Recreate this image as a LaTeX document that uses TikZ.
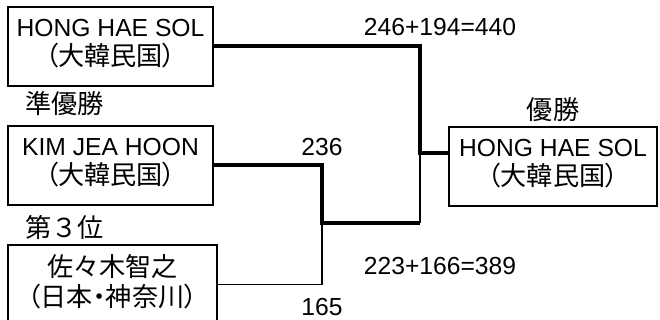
\documentclass[tikz,border=0pt]{standalone}
\usepackage{fontspec}
\setmainfont{Liberation Sans}
\newfontfamily\jp{Noto Sans CJK JP}[Scale=1.06]
\newfontfamily\jpp{Noto Sans CJK JP}[Scale=1.06,RawFeature=+palt]
\tikzset{player/.style={draw,line width=1.1pt,minimum width=154pt,minimum height=59pt,
    align=center,inner sep=0pt,font=\fontsize{18.5}{22}\selectfont},
  win/.style={line width=3pt},
  lose/.style={line width=0.9pt},
  score/.style={inner sep=0pt,font=\fontsize{18.5}{22}\selectfont}}

\begin{document}
\begin{tikzpicture}[x=0.75pt,y=-0.75pt]
      \useasboundingbox (0,0) rectangle (660,320);
      \clip (0,0) rectangle (660,320);

      \node[player] (hong) at (110.5,46.5) {HONG HAE SOL\\{\jpp （大韓民国）}\\[-16pt]};
      \node[player] (kim) at (110.5,165.5) {KIM JEA HOON\\{\jpp （大韓民国）}\\[-16pt]};
      \node[player,minimum width=157pt] (sasaki) at (112.5,284.5) {{\jp 佐々木智之}\\{\jpp （日本・神奈川）}\\[-16pt]};
      \node[player,minimum width=156pt] (champ) at (553,166.5) {HONG HAE SOL\\{\jpp （大韓民国）}\\[-16pt]};

      \node[score,anchor=west] (second) at (25,104) {\jp 準優勝};
      \node[score,anchor=west] (third) at (25,227) {\jp 第３位};
      \node[score] (first) at (553,110) {\jp 優勝};

      \coordinate (semi) at (322,223);
      \coordinate (final) at (420,153);

      \draw[lose] (sasaki.east) -| (semi);
      \draw[lose] (semi -| final) -- (final);
      \draw[win] (kim.east) -| (semi) -- (semi -| final);
      \draw[win] (hong.east) -| (final) -- (champ.west |- final);

      \node[score] (sc236) at (322,147) {236};
      \node[score] (sc165) at (322,307) {165};
      \node[score] (scfin) at (440,27) {246+194=440};
      \node[score] (scsemi) at (440,266) {223+166=389};
    \end{tikzpicture}
\end{document}
